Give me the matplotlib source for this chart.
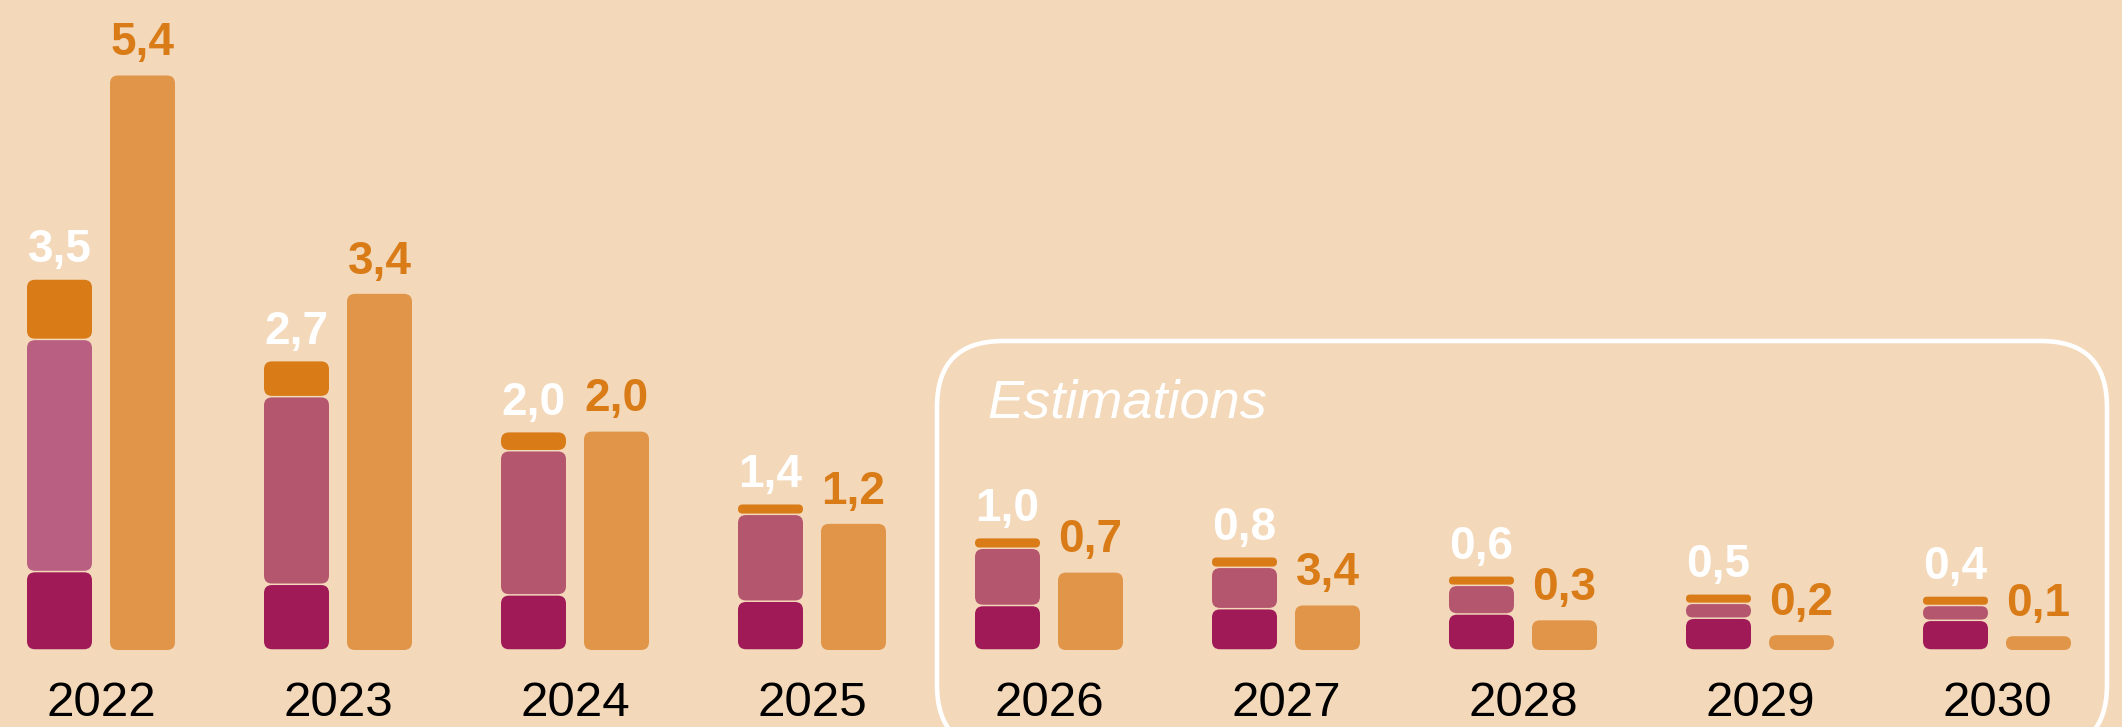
import matplotlib
matplotlib.use('Agg')
import matplotlib.pyplot as plt
from matplotlib.patches import FancyBboxPatch
import numpy as np

years = ['2022', '2023', '2024', '2025', '2026', '2027', '2028', '2029', '2030']
# stacked bar segments (bottom -> top), heights
crimson = [0.74, 0.62, 0.52, 0.46, 0.42, 0.39, 0.34, 0.30, 0.28]
pink = [2.19, 1.77, 1.36, 0.82, 0.54, 0.39, 0.27, 0.14, 0.14]
dark_orange = [0.57, 0.34, 0.18, 0.10, 0.10, 0.10, 0.09, 0.09, 0.09]
# single orange bar
orange = [5.42, 3.36, 2.06, 1.19, 0.73, 0.42, 0.28, 0.14, 0.13]
stack_labels = ['3,5', '2,7', '2,0', '1,4', '1,0', '0,8', '0,6', '0,5', '0,4']
orange_labels = ['5,4', '3,4', '2,0', '1,2', '0,7', '3,4', '0,3', '0,2', '0,1']

BG = '#F3D8BA'
C_CRIMSON = '#A01A58'
C_PINK = ['#B85F82'] + ['#B5566F'] * 8
C_DARK = '#D97C18'
C_ORANGE = '#E19548'

W, H, DPI = 2122, 727, 100
fig = plt.figure(figsize=(W / DPI, H / DPI), dpi=DPI, facecolor=BG)
ax = fig.add_axes([0, 0, 1, 1])
ax.set_facecolor(BG)
ax.axis('off')

# scale: 237 px per year, 106 px per unit, baseline 77 px from bottom
PX_X, PX_Y = 237.0, 106.0
ax.set_xlim(-101 / PX_X, (W - 101) / PX_X)
ax.set_ylim(-77 / PX_Y, (H - 77) / PX_Y)
aspect = PX_X / PX_Y

bar_w = 65 / PX_X
off = 41.5 / PX_X
gap = 1.5 / PX_Y


def rbar(x, y0, h, color, r_px=8):
    # rounded rectangle centred on x, from y0 with height h (data units)
    h_px = h * PX_Y
    r = min(r_px, h_px / 2, 65 / 2) / PX_X
    p = FancyBboxPatch((x - bar_w / 2, y0), bar_w, h,
                       boxstyle=f'round,pad=0,rounding_size={r}',
                       mutation_aspect=aspect, facecolor=color,
                       edgecolor='none')
    ax.add_patch(p)


lab_font = dict(fontsize=33, fontweight='bold', family=['Liberation Sans', 'DejaVu Sans'],
                ha='center', va='baseline')
x = np.arange(len(years))
for i in x:
    xs = i - off
    xo = i + off
    bottom = 0
    for seg, col in zip((crimson[i], pink[i], dark_orange[i]), (C_CRIMSON, C_PINK[i], C_DARK)):
        rbar(xs, bottom + gap / 2, seg - gap, col)
        bottom += seg
    rbar(xo, 0, orange[i], C_ORANGE)
    ax.text(xs, bottom + 0.16, stack_labels[i], color='white', **lab_font)
    ax.text(xo, orange[i] + 0.19, orange_labels[i], color=C_DARK, **lab_font)
    ax.text(i, -66 / PX_Y, years[i], fontsize=35.5, color='black',
            family=['Liberation Sans', 'DejaVu Sans'], ha='center', va='baseline')

# estimations frame
left, right = (937 - 101) / PX_X, (2107 - 101) / PX_X
top, bot = (650 - 341) / PX_Y, (650 - 751) / PX_Y
frame = FancyBboxPatch((left, bot), right - left, top - bot,
                       boxstyle=f'round,pad=0,rounding_size={66 / PX_X}',
                       mutation_aspect=aspect, facecolor='none',
                       edgecolor='white', linewidth=3.3, clip_on=False)
ax.add_patch(frame)
ax.text((987 - 101) / PX_X, (650 - 417) / PX_Y, 'Estimations', fontsize=39,
        style='italic', color='white', family=['Liberation Sans', 'DejaVu Sans'],
        ha='left', va='baseline')

fig.savefig('out.png', dpi=DPI, facecolor=BG)
